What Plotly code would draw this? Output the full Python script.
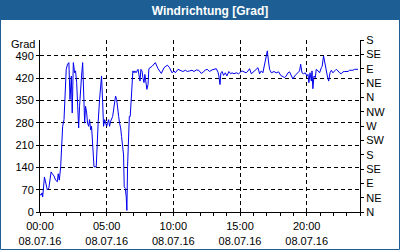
import pandas as pd
import plotly.graph_objects as go

# --- data (minutes after 08.07.16 00:00, wind direction in degrees) ---
minutes = [0, 5, 9, 12, 20, 27, 33, 40, 45, 50, 55, 63, 70, 78, 82, 87, 93, 97, 102, 108,
           112, 118, 124, 130, 135, 141, 145, 150, 156, 160, 165, 170, 174, 178, 183, 187,
           192, 196, 201, 205, 210, 214, 219, 223, 228, 232, 235, 240, 243, 253, 258, 262,
           268, 273, 277, 282, 286, 291, 295, 300, 304, 309, 313, 318, 327, 331, 336, 340,
           345, 349, 354, 358, 363, 367, 372, 376, 379, 384, 388, 391, 394, 397, 402, 406,
           411, 415, 418, 423, 427, 432, 436, 441, 445, 450, 454, 459, 463, 468, 472, 477,
           481, 486, 490, 505, 519, 531, 546, 558, 573, 583, 594, 603, 609, 621, 633, 643,
           654, 663, 673, 684, 693, 703, 714, 726, 736, 744, 753, 763, 774, 783, 793, 801,
           805, 810, 814, 820, 826, 834, 841, 850, 858, 864, 873, 883, 894, 903, 909, 918,
           928, 936, 943, 951, 963, 973, 981, 988, 996, 1003, 1011, 1018, 1023, 1027, 1033,
           1041, 1053, 1063, 1074, 1083, 1093, 1101, 1108, 1116, 1123, 1131, 1138, 1146,
           1153, 1161, 1168, 1173, 1179, 1186, 1194, 1201, 1206, 1210, 1215, 1221, 1224,
           1228, 1233, 1239, 1243, 1251, 1258, 1266, 1270, 1276, 1281, 1287, 1293, 1299,
           1305, 1311, 1318, 1326, 1333, 1341, 1348, 1356, 1363, 1371, 1386, 1393, 1408,
           1416, 1431]
direction = [55, 53, 60, 47, 110, 90, 69, 76, 100, 126, 120, 113, 100, 95, 120, 100, 142, 216,
             269, 290, 374, 448, 464, 469, 353, 427, 311, 469, 437, 443, 406, 300, 264, 332,
             406, 427, 469, 353, 279, 332, 311, 279, 269, 290, 258, 269, 237, 179, 142, 142,
             242, 285, 353, 385, 427, 343, 269, 290, 279, 269, 279, 290, 269, 285, 300, 321,
             337, 364, 353, 321, 300, 279, 264, 237, 211, 179, 79, 74, 47, 5, 142, 216, 300,
             300, 353, 385, 443, 437, 443, 437, 443, 448, 432, 411, 448, 443, 422, 406, 432,
             395, 385, 400, 450, 458, 469, 450, 435, 453, 461, 453, 437, 443, 437, 448, 443,
             441, 445, 441, 443, 445, 441, 446, 445, 435, 440, 446, 448, 441, 446, 448, 450,
             439, 427, 400, 437, 441, 429, 437, 427, 441, 434, 437, 434, 437, 434, 440, 443,
             440, 437, 443, 450, 434, 443, 448, 453, 434, 443, 437, 469, 490, 506, 480, 448,
             437, 441, 437, 440, 429, 425, 422, 427, 437, 440, 429, 418, 427, 432, 437, 443,
             464, 437, 434, 437, 427, 432, 406, 437, 411, 443, 387, 427, 422, 448, 443, 437,
             453, 458, 490, 469, 448, 427, 411, 437, 445, 437, 443, 448, 443, 437, 434, 440,
             441, 441, 445, 445, 448, 448]

x_tick_hours = [0, 5, 10, 15, 20]
x_tick_labels = ["00:00<br>08.07.16", "05:00<br>08.07.16", "10:00<br>08.07.16",
                 "15:00<br>08.07.16", "20:00<br>08.07.16"]
left_ticks = [0, 70, 140, 210, 280, 350, 420, 490]
right_ticks = [0, 45, 90, 135, 180, 225, 270, 315, 360, 405, 450, 495, 540]
right_labels = ["N", "NE", "E", "SE", "S", "SW", "W", "NW", "N", "NE", "E", "SE", "S"]

base = pd.Timestamp("2016-07-08 00:00")
times = [base + pd.Timedelta(minutes=m) for m in minutes]
tickvals = [base + pd.Timedelta(hours=h) for h in x_tick_hours]
minor_vals = [base + pd.Timedelta(hours=h) for h in range(0, 25)]

FONT = "Liberation Sans, Arial, sans-serif"
BLUE_BAR = "#1d5f94"

fig = go.Figure()
fig.add_trace(go.Scatter(x=times, y=direction, mode="lines",
                         line=dict(color="#0000ee", width=1), showlegend=False,
                         hoverinfo="skip"))
fig.add_trace(go.Scatter(x=[], y=[], yaxis="y2", showlegend=False, hoverinfo="skip"))

W, H = 400, 250
L, R, T, B = 40, 40, 40, 38
pw, ph = W - L - R, H - T - B


def px(xp):
    return (xp - L) / pw


def py(yp):
    return (H - B - yp) / ph


fig.update_layout(
    width=W, height=H,
    margin=dict(l=L, r=R, t=T, b=B, pad=0, autoexpand=False),
    paper_bgcolor="white", plot_bgcolor="white",
    font=dict(family=FONT, size=11, color="black"),
    showlegend=False,
    title=dict(text="<b>Windrichtung [Grad]</b>", x=210 / W, xanchor="center",
               y=1 - 10.5 / H, yanchor="middle", yref="container",
               font=dict(family=FONT, size=12, color="white")),
    xaxis=dict(type="date", automargin=False,
               range=[base, base + pd.Timedelta(hours=24)],
               tickmode="array", tickvals=tickvals, ticktext=x_tick_labels,
               ticks="outside", ticklen=3, tickcolor="black", ticklabelstandoff=1,
               showline=True, linecolor="black", linewidth=1,
               showgrid=True, gridcolor="black", gridwidth=1, griddash="4px,3px",
               zeroline=False,
               minor=dict(tickmode="array", tickvals=minor_vals, ticks="outside",
                          ticklen=3, tickcolor="black", showgrid=False)),
    yaxis=dict(range=[0, 540], tickmode="array", tickvals=left_ticks, automargin=False,
               ticks="outside", ticklen=3, tickcolor="black",
               showline=True, linecolor="black", linewidth=1,
               showgrid=True, gridcolor="black", gridwidth=1, griddash="4px,3px",
               zeroline=False),
    yaxis2=dict(range=[0, 540], overlaying="y", side="right", tickmode="array",
                tickvals=right_ticks, ticktext=right_labels, automargin=False,
                ticks="outside", ticklen=3, tickcolor="black",
                showline=True, linecolor="black", linewidth=1,
                showgrid=False, zeroline=False),
    annotations=[dict(text="Grad", xref="paper", yref="paper", x=0, y=py(43.5),
                      xanchor="right", yanchor="middle", xshift=-3, showarrow=False,
                      font=dict(family=FONT, size=11, color="black"))],
    shapes=[
        dict(type="rect", xref="paper", yref="paper", x0=px(0), x1=px(400),
             y0=py(20), y1=py(0), fillcolor=BLUE_BAR, line=dict(width=0), layer="below"),
        dict(type="rect", xref="paper", yref="paper", x0=px(0.5), x1=px(399.5),
             y0=py(249.5), y1=py(0.5), fillcolor="rgba(0,0,0,0)",
             line=dict(color=BLUE_BAR, width=1), layer="above"),
    ],
)

fig.write_html("out.html")
